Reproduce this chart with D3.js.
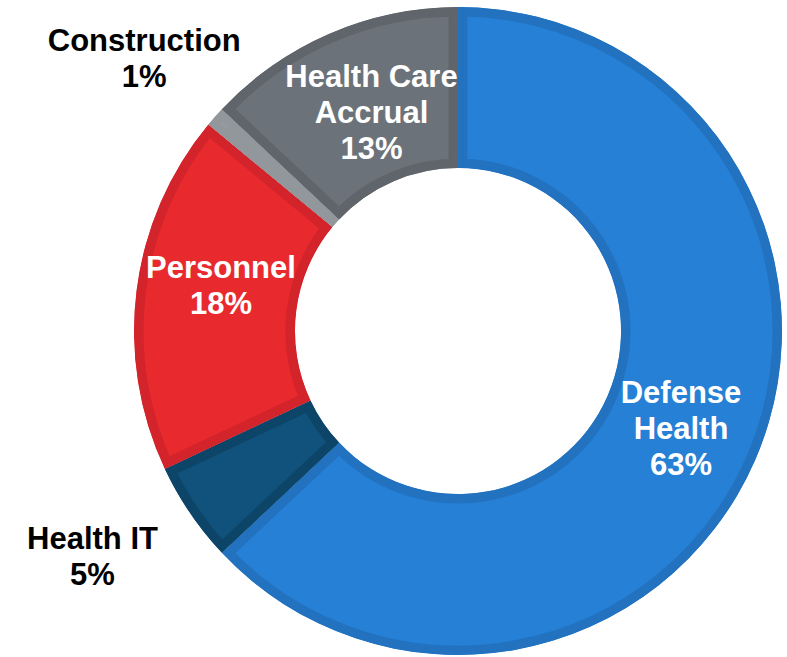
<!DOCTYPE html>
<html>
<head>
<meta charset="utf-8">
<script src="https://cdn.jsdelivr.net/npm/d3@7"></script>
<style>
  body { margin: 0; background: #fff; }
  text { font-family: "Liberation Sans", Arial, sans-serif; font-weight: bold; }
</style>
</head>
<body>
<script>
// slices, clockwise from 12 o'clock
var categories = ["Defense Health", "Health IT", "Personnel", "Construction", "Health Care Accrual"];
var values = [63, 5, 18, 1, 13];
var labelLines = [["Defense", "Health", "63%"], ["Health IT", "5%"], ["Personnel", "18%"], ["Construction", "1%"], ["Health Care", "Accrual", "13%"]];

var fills = ["#2580d6", "#11527d", "#e8292d", "#a1a6ab", "#6c7279"];
var borders = ["#2272c0", "#0d4569", "#d2242a", "#92979c", "#5f656b"];
var outside = {"Health IT": true, "Construction": true};
// hand nudges for label placement
var nudge = {"Personnel": [4, -16], "Health Care Accrual": [10, 4], "Health IT": [-14, -14], "Construction": [5, 8]};

var width = 787, height = 657;
var cx = 458, cy = 331;
var outerR = 324, innerR = 163;

var svg = d3.select("body").append("svg")
    .attr("width", width)
    .attr("height", height);

var g = svg.append("g")
    .attr("transform", "translate(" + cx + "," + cy + ")");

var pie = d3.pie().sort(null).value(function(d) { return d; });
var arcs = pie(values);

var arc = d3.arc().innerRadius(innerR).outerRadius(outerR);
var inLabel = d3.arc().innerRadius(243).outerRadius(243);
var outLabel = d3.arc().innerRadius(425).outerRadius(425);

var defs = svg.append("defs");
defs.selectAll("clipPath")
    .data(arcs)
    .enter().append("clipPath")
    .attr("id", function(d, i) { return "clip" + i; })
    .append("path")
    .attr("d", arc);

g.selectAll("path.slice")
    .data(arcs)
    .enter().append("path")
    .attr("class", "slice")
    .attr("d", arc)
    .attr("fill", function(d, i) { return fills[i]; })
    .attr("stroke", function(d, i) { return borders[i]; })
    .attr("stroke-width", 19)
    .attr("clip-path", function(d, i) { return "url(#clip" + i + ")"; });

var lh = 36;
var labels = g.selectAll("text.lbl")
    .data(arcs)
    .enter().append("text")
    .attr("class", "lbl")
    .attr("text-anchor", "middle")
    .style("font-size", "31px")
    .attr("fill", function(d, i) { return outside[categories[i]] ? "#000" : "#fff"; })
    .attr("transform", function(d, i) {
        var c = outside[categories[i]] ? outLabel.centroid(d) : inLabel.centroid(d);
        var n = nudge[categories[i]] || [0, 0];
        return "translate(" + (c[0] + n[0]) + "," + (c[1] + n[1]) + ")";
    });

labels.each(function(d, i) {
    var lines = labelLines[i];
    var t = d3.select(this);
    lines.forEach(function(s, j) {
        t.append("tspan")
            .attr("x", 0)
            .attr("y", (j - (lines.length - 1) / 2) * lh + 11)
            .text(s);
    });
});
</script>
</body>
</html>
